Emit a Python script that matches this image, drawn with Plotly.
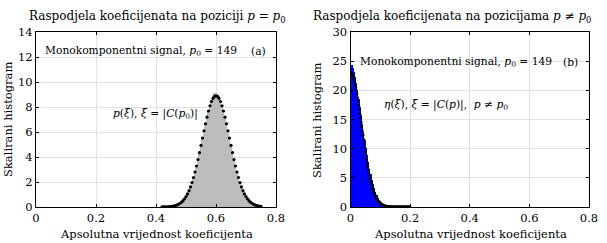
import numpy as np
import plotly.graph_objects as go

# ---------------- data ----------------
# Left panel: fine gray histogram, bin centres start/step
hist_a_start = 0.430
hist_a_step = 0.005
hist_a_vals = [0.01, 0.015, 0.02, 0.03, 0.05, 0.065, 0.09, 0.13, 0.17, 0.23,
               0.31, 0.41, 0.52, 0.68, 0.86, 1.08, 1.34, 1.66, 2.00, 2.40,
               2.85, 3.32, 3.85, 4.40, 4.98, 5.55, 6.15, 6.72, 7.25, 7.75,
               8.20, 8.55, 8.85, 9.10, 9.15, 9.05, 8.85, 8.50, 8.15, 7.70,
               7.25, 6.70, 6.15, 5.55, 4.95, 4.40, 3.85, 3.30, 2.80, 2.35,
               1.95, 1.60, 1.30, 1.05, 0.82, 0.64, 0.48, 0.36, 0.27, 0.19,
               0.13, 0.09, 0.06, 0.04, 0.02]

# Left panel: dotted density p(xi)
dots_a_start = 0.420
dots_a_step = 0.005
dots_a_vals = [0.004, 0.006, 0.010, 0.014, 0.021, 0.030, 0.044, 0.062, 0.087, 0.12,
               0.164, 0.22, 0.30, 0.39, 0.51, 0.66, 0.84, 1.05, 1.31, 1.61,
               1.96, 2.36, 2.80, 3.28, 3.80, 4.35, 4.93, 5.52, 6.10, 6.66,
               7.19, 7.68, 8.10, 8.44, 8.69, 8.85, 8.90, 8.85, 8.69, 8.44,
               8.10, 7.68, 7.19, 6.66, 6.10, 5.52, 4.93, 4.35, 3.80, 3.28,
               2.80, 2.36, 1.96, 1.61, 1.31, 1.05, 0.84, 0.66, 0.51, 0.39,
               0.30, 0.22, 0.164, 0.12, 0.087, 0.062, 0.044]

# Right panel: blue histogram
hist_b_start = 0.002
hist_b_step = 0.004
hist_b_vals = [24.3, 23.9, 23.2, 22.3, 21.2, 20.0, 18.6, 17.2, 15.8, 14.3,
               12.9, 11.5, 10.1, 8.9, 7.7, 6.6, 5.6, 4.7, 3.9, 3.2,
               2.6, 2.1, 1.6, 1.25, 0.95, 0.7, 0.5, 0.37, 0.26, 0.18,
               0.12, 0.08, 0.05, 0.03, 0.02]

# Right panel: dotted density eta(xi)
dots_b_start = 0.0
dots_b_step = 0.002
dots_b_vals = [23.00, 22.97, 22.87, 22.71, 22.48, 22.20, 21.85, 21.45, 21.00, 20.50,
               19.95, 19.36, 18.75, 18.09, 17.41, 16.70, 15.98, 15.24, 14.50, 13.76,
               13.01, 12.28, 11.55, 10.83, 10.13, 9.45, 8.79, 8.15, 7.54, 6.95,
               6.39, 5.86, 5.36, 4.89, 4.44, 4.03, 3.64, 3.28, 2.95, 2.64,
               2.36, 2.10, 1.87, 1.66, 1.47, 1.29, 1.13, 0.99, 0.87, 0.75,
               0.66, 0.57, 0.49, 0.42, 0.36, 0.31, 0.27, 0.23, 0.19, 0.16,
               0.14, 0.116, 0.097, 0.082, 0.068, 0.056, 0.047, 0.039, 0.032, 0.026,
               0.022, 0.018, 0.014, 0.011, 0.009, 0.007, 0.006, 0.005, 0.004, 0.003,
               0.002, 0.002, 0.001, 0.001, 0.001, 0.001, 0.0, 0.0, 0.0, 0.0,
               0.0, 0.0, 0.0, 0.0, 0.0, 0.0, 0.0, 0.0, 0.0, 0.0, 0.0]

x_ticks = [0, 0.2, 0.4, 0.6, 0.8]
x_tick_labels = ["0", "0.2", "0.4", "0.6", "0.8"]
ya_ticks = [0, 2, 4, 6, 8, 10, 12, 14]
yb_ticks = [0, 5, 10, 15, 20, 25, 30]

title_a = "Raspodjela koeficijenata na poziciji <i>p</i> = <i>p</i><sub>0</sub>"
title_b = "Raspodjela koeficijenata na pozicijama <i>p</i> ≠ <i>p</i><sub>0</sub>"
x_title = "Apsolutna vrijednost koeficijenta"
y_title = "Skalirani histogram"
label_sig = "Monokomponentni signal, <i>p</i><sub>0</sub> = 149"
label_a = "<i>p</i>(<i>ξ</i>), <i>ξ</i> = |<i>C</i>(<i>p</i><sub>0</sub>)|"
label_b = "<i>η</i>(<i>ξ</i>), <i>ξ</i> = |<i>C</i>(<i>p</i>)|,  <i>p</i> ≠ <i>p</i><sub>0</sub>"


def grid(start, step, n):
    return [round(start + i * step, 6) for i in range(n)]


FONT = "'DejaVu Serif', 'Liberation Serif', serif"
W, H = 607, 243

fig = go.Figure()

fig.add_trace(go.Bar(x=grid(hist_a_start, hist_a_step, len(hist_a_vals)), y=hist_a_vals,
                     width=hist_a_step, marker=dict(color="rgb(188,188,188)", line=dict(width=0)),
                     xaxis="x", yaxis="y", showlegend=False))
fig.add_trace(go.Scatter(x=grid(dots_a_start, dots_a_step, len(dots_a_vals)), y=dots_a_vals,
                         mode="markers", marker=dict(color="black", size=3.2),
                         xaxis="x", yaxis="y", showlegend=False))
fig.add_trace(go.Bar(x=grid(hist_b_start, hist_b_step, len(hist_b_vals)), y=hist_b_vals,
                     width=hist_b_step, marker=dict(color="rgb(0,0,255)", line=dict(width=0)),
                     xaxis="x2", yaxis="y2", showlegend=False))
fig.add_trace(go.Scatter(x=grid(dots_b_start, dots_b_step, len(dots_b_vals)), y=dots_b_vals,
                         mode="markers", marker=dict(color="black", size=2.8),
                         xaxis="x2", yaxis="y2", showlegend=False))

ax_common = dict(showline=True, linecolor="black", linewidth=1, mirror="ticks",
                 ticks="inside", ticklen=3, tickcolor="black", automargin=False,
                 showgrid=True, gridcolor="rgb(226,226,226)", gridwidth=1,
                 zeroline=False, tickfont=dict(family=FONT, size=11.5, color="black"))

ydom = [1 - 207 / H, 1 - 32 / H]
fig.update_layout(
    template="none",
    width=W, height=H, autosize=False, margin=dict(l=0, r=0, t=0, b=0, pad=0),
    paper_bgcolor="white", plot_bgcolor="white", bargap=0,
    xaxis=dict(domain=[36 / W, 276 / W], range=[0, 0.8], tickvals=x_ticks,
               ticktext=x_tick_labels, anchor="y", **ax_common),
    yaxis=dict(domain=ydom, range=[0, 14], tickvals=ya_ticks, anchor="x", **ax_common),
    xaxis2=dict(domain=[350.5 / W, 589 / W], range=[0, 0.8], tickvals=x_ticks,
                ticktext=x_tick_labels, anchor="y2", **ax_common),
    yaxis2=dict(domain=ydom, range=[0, 30], tickvals=yb_ticks, anchor="x2", **ax_common),
)

f13 = dict(family=FONT, size=12, color="black")
fax = dict(family=FONT, size=11.5, color="black")
f12 = dict(family=FONT, size=10.7, color="black")
ann = [
    dict(text=title_a, x=157 / W, y=1 - 17 / H, xref="paper", yref="paper",
         xanchor="center", yanchor="middle", showarrow=False, font=f13),
    dict(text=title_b, x=452 / W, y=1 - 17 / H, xref="paper", yref="paper",
         xanchor="center", yanchor="middle", showarrow=False, font=f13),
    dict(text=x_title, x=156 / W, y=1 - 234 / H, xref="paper", yref="paper",
         xanchor="center", yanchor="middle", showarrow=False, font=fax),
    dict(text=x_title, x=470 / W, y=1 - 234 / H, xref="paper", yref="paper",
         xanchor="center", yanchor="middle", showarrow=False, font=fax),
    dict(text=y_title, x=8 / W, y=1 - 120 / H, xref="paper", yref="paper", textangle=-90,
         xanchor="center", yanchor="middle", showarrow=False, font=fax),
    dict(text=y_title, x=317 / W, y=1 - 120 / H, xref="paper", yref="paper", textangle=-90,
         xanchor="center", yanchor="middle", showarrow=False, font=fax),
    dict(text=label_sig, x=0.022, y=12.45, xref="x", yref="y",
         xanchor="left", yanchor="middle", showarrow=False, font=f12),
    dict(text="(a)", x=0.74, y=12.45, xref="x", yref="y",
         xanchor="center", yanchor="middle", showarrow=False, font=f12),
    dict(text=label_a, x=0.25, y=7.45, xref="x", yref="y",
         xanchor="left", yanchor="middle", showarrow=False, font=f12),
    dict(text=label_sig, x=0.024, y=24.8, xref="x2", yref="y2",
         xanchor="left", yanchor="middle", showarrow=False, font=f12),
    dict(text="(b)", x=0.737, y=24.8, xref="x2", yref="y2",
         xanchor="center", yanchor="middle", showarrow=False, font=f12),
    dict(text=label_b, x=0.106, y=17.5, xref="x2", yref="y2",
         xanchor="left", yanchor="middle", showarrow=False, font=f12),
]
fig.update_layout(annotations=ann)

fig.write_html("out.html", config={"displayModeBar": False},
               post_script="document.body.style.margin='0';document.body.style.padding='0';")
